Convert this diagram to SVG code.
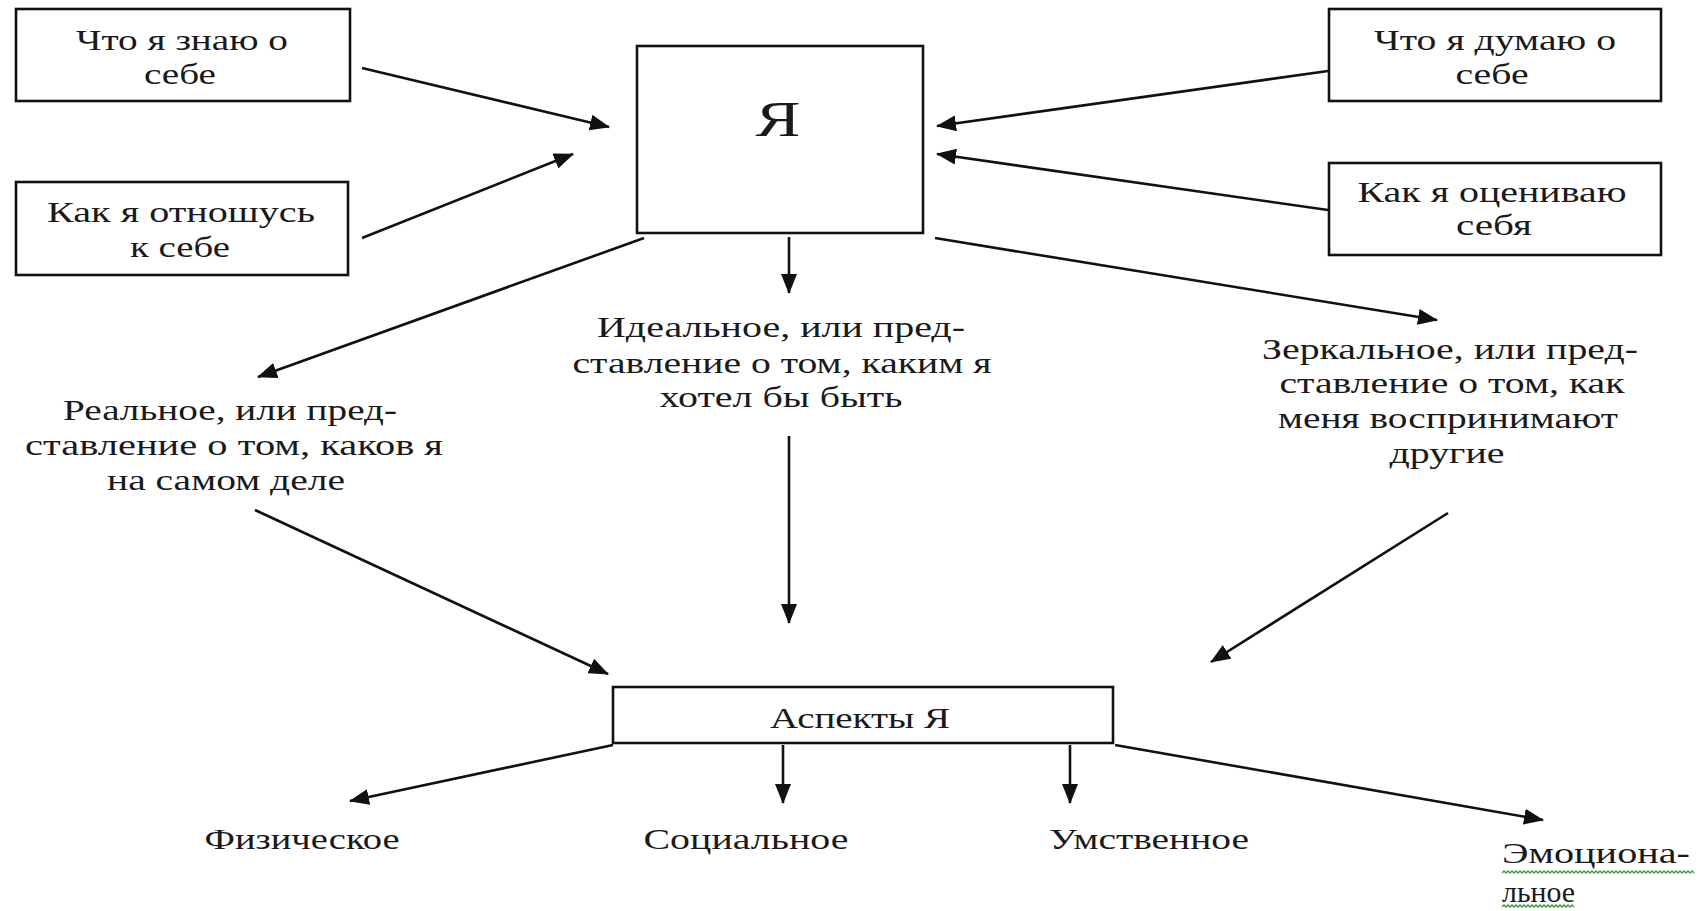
<svg xmlns="http://www.w3.org/2000/svg" width="1702" height="911" viewBox="0 0 1702 911">
<style>
  .box { fill: #ffffff; stroke: #111111; stroke-width: 2.6; }
  .t { font-family: "Liberation Serif", "Times New Roman", serif; font-size: 30px; fill: #1a1a1a; text-anchor: middle; }
  .tl { text-anchor: start; }
  .big { font-size: 50px; }
  .c { stroke: #111111; stroke-width: 2.6; fill: none; marker-end: url(#arr); }
  .sq { stroke: #3a9a3a; stroke-width: 1.4; fill: none; }
</style>
<defs>
  <marker id="arr" markerUnits="userSpaceOnUse" viewBox="0 0 20 16" refX="19" refY="8" markerWidth="20" markerHeight="16" orient="auto">
    <path d="M0,0 L20,8 L0,16 z" fill="#111111"/>
  </marker>
</defs>
<rect x="0" y="0" width="1702" height="911" fill="#ffffff"/>

<g id="connectors">
  <line class="c" x1="362" y1="68" x2="609" y2="127"/>
  <line class="c" x1="362" y1="238" x2="573" y2="154"/>
  <line class="c" x1="1328" y1="71" x2="937" y2="126"/>
  <line class="c" x1="1328" y1="210" x2="937" y2="154"/>
  <line class="c" x1="644" y1="238" x2="258" y2="377"/>
  <line class="c" x1="789" y1="237" x2="789" y2="293"/>
  <line class="c" x1="935" y1="238" x2="1437" y2="320"/>
  <line class="c" x1="255" y1="510" x2="608" y2="674"/>
  <line class="c" x1="789" y1="436" x2="789" y2="623"/>
  <line class="c" x1="1448" y1="513" x2="1211" y2="662"/>
  <line class="c" x1="613" y1="745" x2="350" y2="801"/>
  <line class="c" x1="783" y1="745" x2="783" y2="803"/>
  <line class="c" x1="1070" y1="745" x2="1070" y2="803"/>
  <line class="c" x1="1115" y1="745" x2="1543" y2="820"/>
</g>

<g id="node-know">
  <rect class="box" x="16" y="9" width="334" height="92"/>
  <text class="t" x="182" y="50" textLength="212" lengthAdjust="spacingAndGlyphs">Что я знаю о</text>
  <text class="t" x="180" y="84" textLength="72" lengthAdjust="spacingAndGlyphs">себе</text>
</g>

<g id="node-relate">
  <rect class="box" x="16" y="182" width="332" height="93"/>
  <text class="t" x="181" y="222" textLength="268" lengthAdjust="spacingAndGlyphs">Как я отношусь</text>
  <text class="t" x="180" y="257" textLength="100" lengthAdjust="spacingAndGlyphs">к себе</text>
</g>

<g id="node-self">
  <rect class="box" x="637" y="46" width="286" height="187"/>
  <text class="t big" x="778" y="136" textLength="45" lengthAdjust="spacingAndGlyphs">Я</text>
</g>

<g id="node-think">
  <rect class="box" x="1329" y="9" width="332" height="92"/>
  <text class="t" x="1495" y="50" textLength="242" lengthAdjust="spacingAndGlyphs">Что я думаю о</text>
  <text class="t" x="1492" y="84" textLength="73" lengthAdjust="spacingAndGlyphs">себе</text>
</g>

<g id="node-evaluate">
  <rect class="box" x="1329" y="163" width="332" height="92"/>
  <text class="t" x="1492" y="202" textLength="269" lengthAdjust="spacingAndGlyphs">Как я оцениваю</text>
  <text class="t" x="1494" y="235" textLength="76" lengthAdjust="spacingAndGlyphs">себя</text>
</g>

<g id="node-real">
  <text class="t" x="230" y="420" textLength="334" lengthAdjust="spacingAndGlyphs">Реальное, или пред-</text>
  <text class="t" x="234" y="455" textLength="418" lengthAdjust="spacingAndGlyphs">ставление о том, каков я</text>
  <text class="t" x="226" y="490" textLength="238" lengthAdjust="spacingAndGlyphs">на самом деле</text>
</g>

<g id="node-ideal">
  <text class="t" x="781" y="337" textLength="368" lengthAdjust="spacingAndGlyphs">Идеальное, или пред-</text>
  <text class="t" x="782" y="373" textLength="419" lengthAdjust="spacingAndGlyphs">ставление о том, каким я</text>
  <text class="t" x="781" y="407" textLength="243" lengthAdjust="spacingAndGlyphs">хотел бы быть</text>
</g>

<g id="node-mirror">
  <text class="t" x="1450" y="359" textLength="376" lengthAdjust="spacingAndGlyphs">Зеркальное, или пред-</text>
  <text class="t" x="1452" y="393" textLength="345" lengthAdjust="spacingAndGlyphs">ставление о том, как</text>
  <text class="t" x="1448" y="428" textLength="340" lengthAdjust="spacingAndGlyphs">меня воспринимают</text>
  <text class="t" x="1447" y="463" textLength="115" lengthAdjust="spacingAndGlyphs">другие</text>
</g>

<g id="node-aspects">
  <rect class="box" x="613" y="687" width="500" height="56"/>
  <text class="t" x="860" y="728" textLength="180" lengthAdjust="spacingAndGlyphs">Аспекты Я</text>
</g>

<g id="node-physical">
  <text class="t" x="302" y="849" textLength="195" lengthAdjust="spacingAndGlyphs">Физическое</text>
</g>

<g id="node-social">
  <text class="t" x="746" y="849" textLength="205" lengthAdjust="spacingAndGlyphs">Социальное</text>
</g>

<g id="node-mental">
  <text class="t" x="1149" y="849" textLength="200" lengthAdjust="spacingAndGlyphs">Умственное</text>
</g>

<g id="node-emotional">
  <text class="t tl" x="1502" y="863" textLength="188" lengthAdjust="spacingAndGlyphs">Эмоциона-</text>
  <text class="t tl" x="1502" y="902" textLength="73" lengthAdjust="spacingAndGlyphs">льное</text>
  <path class="sq" d="M1502,873 l2,-2 l2,2 l2,-2 l2,2 l2,-2 l2,2 l2,-2 l2,2 l2,-2 l2,2 l2,-2 l2,2 l2,-2 l2,2 l2,-2 l2,2 l2,-2 l2,2 l2,-2 l2,2 l2,-2 l2,2 l2,-2 l2,2 l2,-2 l2,2 l2,-2 l2,2 l2,-2 l2,2 l2,-2 l2,2 l2,-2 l2,2 l2,-2 l2,2 l2,-2 l2,2 l2,-2 l2,2 l2,-2 l2,2 l2,-2 l2,2 l2,-2 l2,2 l2,-2 l2,2 l2,-2 l2,2 l2,-2 l2,2 l2,-2 l2,2 l2,-2 l2,2 l2,-2 l2,2 l2,-2 l2,2 l2,-2 l2,2 l2,-2 l2,2 l2,-2 l2,2 l2,-2 l2,2 l2,-2 l2,2 l2,-2 l2,2 l2,-2 l2,2 l2,-2 l2,2 l2,-2 l2,2 l2,-2 l2,2 l2,-2 l2,2 l2,-2 l2,2 l2,-2 l2,2 l2,-2 l2,2 l2,-2 l2,2 l2,-2 l2,2 l2,-2 l2,2 l2,-2 l2,2"/>
  <path class="sq" d="M1502,907 l2,-2 l2,2 l2,-2 l2,2 l2,-2 l2,2 l2,-2 l2,2 l2,-2 l2,2 l2,-2 l2,2 l2,-2 l2,2 l2,-2 l2,2 l2,-2 l2,2 l2,-2 l2,2 l2,-2 l2,2 l2,-2 l2,2 l2,-2 l2,2 l2,-2 l2,2 l2,-2 l2,2 l2,-2 l2,2 l2,-2 l2,2 l2,-2 l2,2"/>
</g>
</svg>
